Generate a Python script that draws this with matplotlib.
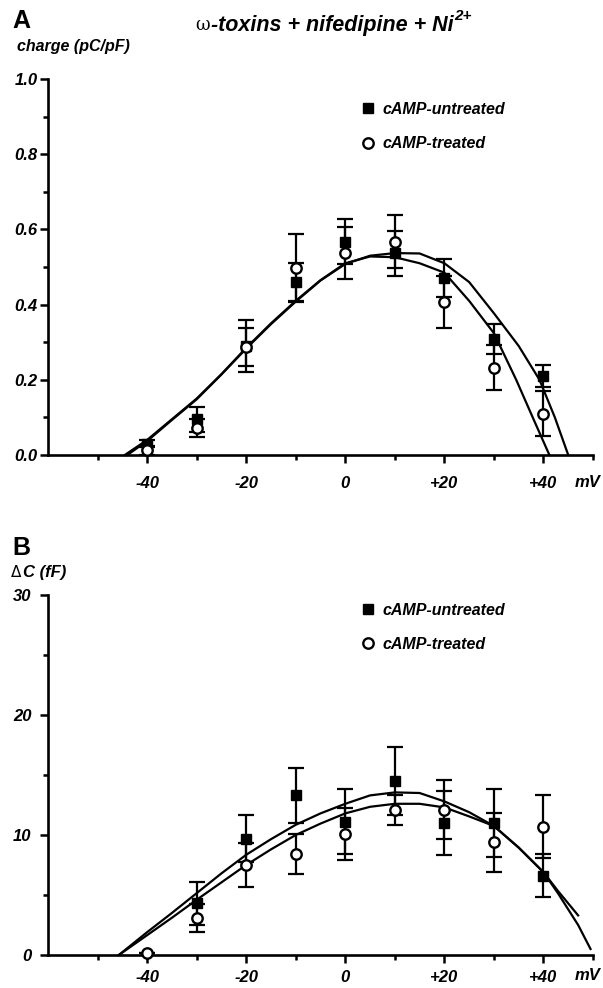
import matplotlib
matplotlib.use("Agg")
import matplotlib.pyplot as plt
from matplotlib.ticker import FixedLocator

plt.rcParams["font.family"] = ["Liberation Sans", "DejaVu Sans"]
plt.rcParams["font.weight"] = "bold"
plt.rcParams["font.style"] = "italic"

# ---- panel A: charge (pC/pF) ----
volts = [-40, -30, -20, -10, 0, 10, 20, 30, 40]
a_untreated = [0.03, 0.095, 0.29, 0.46, 0.567, 0.537, 0.471, 0.308, 0.21]
a_untreated_err = [0.01, 0.033, 0.07, 0.05, 0.06, 0.06, 0.05, 0.04, 0.03]
a_treated = [0.013, 0.072, 0.287, 0.497, 0.537, 0.567, 0.407, 0.232, 0.11]
a_treated_err = [0.012, 0.025, 0.05, 0.09, 0.07, 0.07, 0.07, 0.06, 0.06]

a_fit1_v = [-44.5, -40, -35, -30, -25, -20, -15, -10, -5, 0, 5, 10, 15, 20, 25, 30, 34.5, 38, 41.2]
a_fit1 = [0, 0.04, 0.095, 0.15, 0.215, 0.285, 0.35, 0.41, 0.465, 0.51, 0.528, 0.526, 0.51, 0.485, 0.41, 0.324, 0.2, 0.095, 0]
a_fit2_v = [-44.0, -40, -35, -30, -25, -20, -15, -10, -5, 0, 5, 10, 15, 20, 25, 30, 35, 39.2, 42.3, 45]
a_fit2 = [0, 0.037, 0.093, 0.148, 0.214, 0.283, 0.348, 0.408, 0.464, 0.508, 0.53, 0.537, 0.536, 0.51, 0.46, 0.377, 0.29, 0.2, 0.1, 0]

# ---- panel B: delta C (fF) ----
b_untreated_v = [-30, -20, -10, 0, 10, 20, 30, 40]
b_untreated = [4.3, 9.7, 13.3, 11.1, 14.5, 11.0, 11.0, 6.6]
b_untreated_err = [1.8, 1.95, 2.3, 2.7, 2.8, 2.7, 2.85, 1.8]
b_treated_v = [-40, -30, -20, -10, 0, 10, 20, 30, 40]
b_treated = [0.2, 3.1, 7.5, 8.4, 10.1, 12.1, 12.1, 9.4, 10.7]
b_treated_err = [0, 1.15, 1.8, 1.65, 2.15, 1.25, 2.45, 2.45, 2.6]

b_fit1_v = [-45.7, -40, -35, -30, -25, -20, -15, -10, -5, 0, 5, 10, 15, 20, 25, 30, 35, 40, 43, 47]
b_fit1 = [0, 1.9, 3.5, 5.15, 6.8, 8.35, 9.65, 10.85, 11.8, 12.6, 13.3, 13.55, 13.5, 12.8, 11.9, 10.75, 8.95, 6.9, 5.3, 3.3]
b_fit2_v = [-45.7, -40, -35, -30, -25, -20, -15, -10, -5, 0, 5, 10, 15, 20, 25, 30, 35, 40, 43, 47, 49.5]
b_fit2 = [0, 1.65, 3.1, 4.6, 6.05, 7.5, 8.8, 10.0, 10.95, 11.8, 12.35, 12.6, 12.6, 12.3, 11.55, 10.75, 8.95, 6.9, 5.1, 2.5, 0.5]

x_major = [-40, -20, 0, 20, 40]
x_labels = ["-40", "-20", "0", "+20", "+40"]
x_minor = [-50, -30, -10, 10, 30, 50]

W, H = 603, 988
fig = plt.figure(figsize=(W / 100, H / 100), dpi=100)
ax_a = fig.add_axes([48 / W, 1 - 455 / H, 545 / W, 376 / H])
ax_b = fig.add_axes([48 / W, 1 - 955 / H, 545 / W, 360 / H])

err_kw = dict(fmt="none", ecolor="black", elinewidth=1.6, capsize=6, capthick=1.6)


def style_axes(ax, ylim, ymajor, yminor, ylabels, xpad, ypad):
    ax.set_xlim(-60, 50)
    ax.set_ylim(*ylim)
    for side in ("top", "right"):
        ax.spines[side].set_visible(False)
    for side in ("left", "bottom"):
        ax.spines[side].set_linewidth(1.9)
    ax.xaxis.set_major_locator(FixedLocator(x_major))
    ax.xaxis.set_minor_locator(FixedLocator(x_minor))
    ax.set_xticklabels(x_labels)
    ax.yaxis.set_major_locator(FixedLocator(ymajor))
    ax.yaxis.set_minor_locator(FixedLocator(yminor))
    ax.set_yticklabels(ylabels)
    ax.tick_params(which="major", length=6, width=1.8, labelsize=12, direction="out")
    ax.tick_params(which="minor", length=3.5, width=1.8, direction="out")
    ax.tick_params(axis="x", pad=xpad)
    ax.tick_params(axis="y", pad=ypad)
    for lab in ax.get_xticklabels() + ax.get_yticklabels():
        lab.set_fontweight("bold")
        lab.set_fontstyle("italic")


def draw_panel(ax, vu, yu, eu, vt, yt, et, fits, legend_top):
    for fv, fy in fits:
        ax.plot(fv, fy, color="black", lw=1.6, zorder=2, clip_on=False)
    ax.errorbar(vu, yu, yerr=eu, zorder=3, **err_kw)
    ax.errorbar(vt, yt, yerr=et, zorder=3, **err_kw)
    ax.plot(vu, yu, "s", color="black", ms=7, zorder=4, label="cAMP-untreated", clip_on=False)
    ax.plot(vt, yt, "o", mfc="white", mec="black", mew=1.7, ms=7.5, zorder=5,
            label="cAMP-treated", clip_on=False)
    ax.legend(loc="upper left", bbox_to_anchor=(0.572, legend_top),
              frameon=False, borderpad=0, borderaxespad=0, handlelength=1.0,
              handletextpad=0.4, labelspacing=1.2,
              prop=dict(family="Liberation Sans", weight="bold", style="italic", size=11.5))


draw_panel(ax_a, volts, a_untreated, a_untreated_err, volts, a_treated, a_treated_err,
           [(a_fit1_v, a_fit1), (a_fit2_v, a_fit2)], 0.939)
style_axes(ax_a, (0, 1.0), [0, 0.2, 0.4, 0.6, 0.8, 1.0], [0.1, 0.3, 0.5, 0.7, 0.9],
           ["0.0", "0.2", "0.4", "0.6", "0.8", "1.0"], 9, 1.5)

draw_panel(ax_b, b_untreated_v, b_untreated, b_untreated_err, b_treated_v, b_treated,
           b_treated_err, [(b_fit1_v, b_fit1), (b_fit2_v, b_fit2)], 0.978)
style_axes(ax_b, (0, 30), [0, 10, 20, 30], [5, 15, 25], ["0", "10", "20", "30"], 5, 6)

# text annotations
renderer = fig.canvas.get_renderer()
fig.text(12 / W, 1 - 21 / H, "A", fontsize=18, fontweight="bold", fontstyle="normal",
         va="center", ha="left")
fig.text(12 / W, 1 - 548 / H, "B", fontsize=18, fontweight="bold", fontstyle="normal",
         va="center", ha="left")
fig.text(210 / W, 1 - 25 / H, "\u03c9", family="DejaVu Serif", fontstyle="normal",
         fontweight="normal", fontsize=13, va="center", ha="right")
title = fig.text(211 / W, 1 - 25 / H, "-toxins + nifedipine + Ni", fontsize=15.5,
                 va="center", ha="left")
tb = title.get_window_extent(renderer)
fig.text(tb.x1 / W + 1 / W, (tb.y1 - 2) / H, "2+", fontsize=11, va="center", ha="left")

fig.text(17 / W, 1 - 47 / H, "charge (pC/pF)", fontsize=11.5, va="center", ha="left")
delta = fig.text(11 / W, 1 - 572 / H, "\u0394", fontstyle="normal", fontweight="normal",
                 family="DejaVu Sans", fontsize=11, va="center", ha="left")
db = delta.get_window_extent(renderer)
fig.text((db.x1 + 2) / W, 1 - 572 / H, "C (fF)", fontsize=12, va="center", ha="left")
fig.text(588 / W, 1 - 482 / H, "mV", fontsize=12, va="center", ha="center")
fig.text(588 / W, 1 - 975 / H, "mV", fontsize=12, va="center", ha="center")

fig.savefig("out.png", dpi=100)
